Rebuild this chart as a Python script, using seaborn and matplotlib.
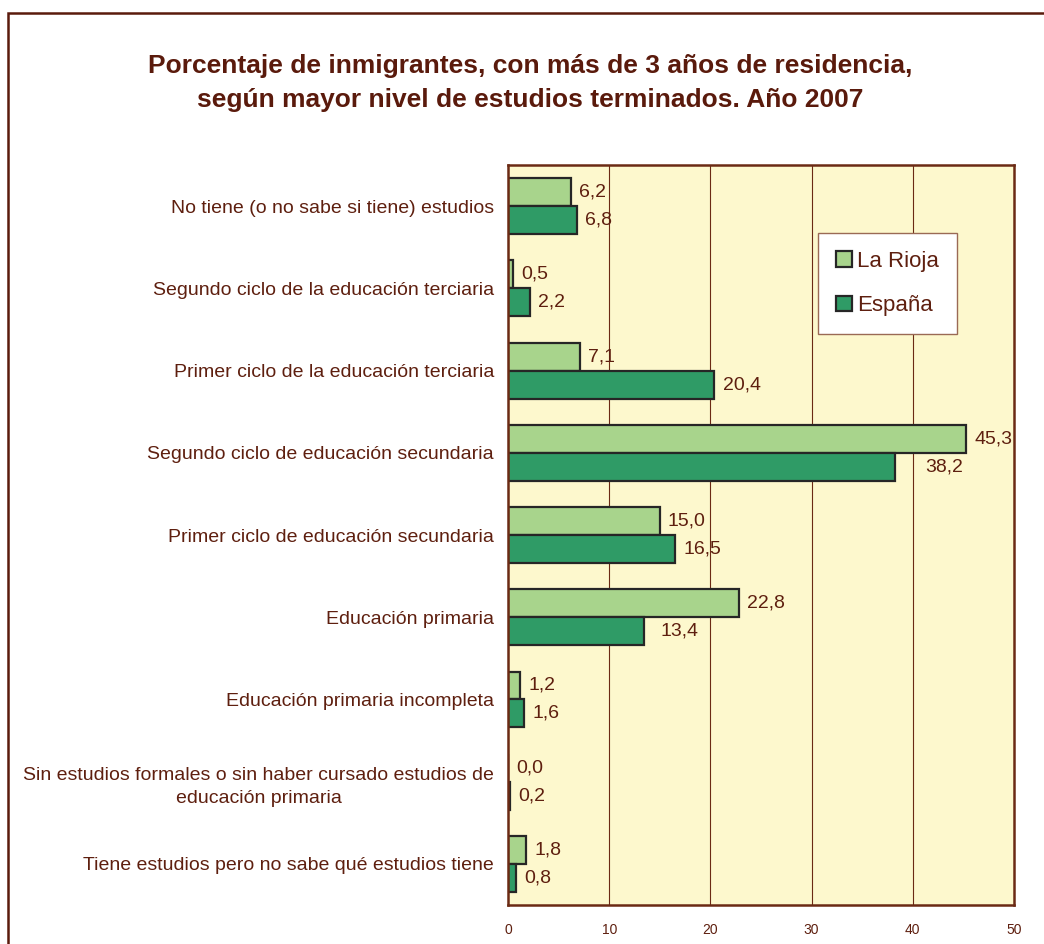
import pandas as pd
import seaborn as sns
import matplotlib.pyplot as plt
from matplotlib.patches import Rectangle

categories = [
    "No tiene (o no sabe si tiene) estudios",
    "Segundo ciclo de la educación terciaria",
    "Primer ciclo de la educación terciaria",
    "Segundo ciclo de educación secundaria",
    "Primer ciclo de educación secundaria",
    "Educación primaria",
    "Educación primaria incompleta",
    "Sin estudios formales o sin haber cursado estudios de\neducación primaria",
    "Tiene estudios pero no sabe qué estudios tiene",
]
la_rioja = [6.2, 0.5, 7.1, 45.3, 15.0, 22.8, 1.2, 0.0, 1.8]
espana = [6.8, 2.2, 20.4, 38.2, 16.5, 13.4, 1.6, 0.2, 0.8]
series = ["La Rioja", "España"]
colors = ["#a8d48c", "#2f9b66"]

# labels that Excel pushed further right
label_shift = {(3, "España"): 2.2, (5, "España"): 0.9}

TXT = "#5e1f0f"
BROWN = "#6b2a14"

df = pd.DataFrame({
    "cat": categories * 2,
    "serie": [series[0]] * len(categories) + [series[1]] * len(categories),
    "val": la_rioja + espana,
})

sns.set_style("white")
plt.rcParams["font.family"] = ["Liberation Sans", "DejaVu Sans"]

fig = plt.figure(figsize=(10.44, 9.44), dpi=100)
ax = fig.add_axes([0.4866, 0.0413, 0.4847, 0.7839])
ax.set_facecolor("#fdf8cd")

sns.barplot(data=df, y="cat", x="val", hue="serie", hue_order=series,
            palette=colors, saturation=1, orient="h", width=0.68,
            edgecolor="#262626", linewidth=1.6, ax=ax, legend=True)

ax.set_xlim(0, 50)
ax.set_ylim(len(categories) - 0.5, -0.5)
ax.set_xticks(range(0, 51, 10))
for x in range(10, 50, 10):
    ax.axvline(x, color=BROWN, lw=0.8, zorder=0)

for container, name in zip(ax.containers, series):
    for i, bar in enumerate(container):
        v = bar.get_width()
        x = v + 0.8 + label_shift.get((i, name), 0)
        y = bar.get_y() + bar.get_height() / 2
        ax.text(x, y, f"{v:.1f}".replace(".", ","), va="center", ha="left",
                fontsize=14, color=TXT)

ax.set_xlabel("")
ax.set_ylabel("")
ax.tick_params(axis="x", labelsize=10, colors=BROWN, labelcolor=TXT,
               length=4, width=1, pad=9)
ax.tick_params(axis="y", which="major", length=0, pad=10, labelsize=14,
               labelcolor=TXT)
ax.set_yticks([i + 0.5 for i in range(-1, len(categories))], minor=True)
ax.tick_params(axis="y", which="minor", length=5, width=1, color="#555555")
for lab in ax.get_yticklabels():
    lab.set_multialignment("center")
    lab.set_linespacing(1.45)

for s in ax.spines.values():
    s.set_color(BROWN)
    s.set_linewidth(1.8)

leg = ax.legend(loc="upper left", bbox_to_anchor=(0.613, 0.908), fontsize=16,
                frameon=True, fancybox=False, framealpha=1, edgecolor="#9a6a55",
                handlelength=0.7, handleheight=0.7, handletextpad=0.25,
                labelspacing=1.05, borderpad=0.8, borderaxespad=0)
leg.get_frame().set_linewidth(1.0)
for t in leg.get_texts():
    t.set_color(TXT)

fig.text(0.508, 0.912,
         "Porcentaje de inmigrantes, con más de 3 años de residencia,\n"
         "según mayor nivel de estudios terminados. Año 2007",
         ha="center", va="center", fontsize=19, fontweight="bold",
         color="#5a1a0c", linespacing=1.55)

fig.patches.append(Rectangle((8 / 1044, -0.05), 1.1, 0.05 + 1 - 13 / 944,
                             transform=fig.transFigure, fill=False,
                             edgecolor="#5a1a0c", lw=1.8))

fig.savefig("out.png", dpi=100)
